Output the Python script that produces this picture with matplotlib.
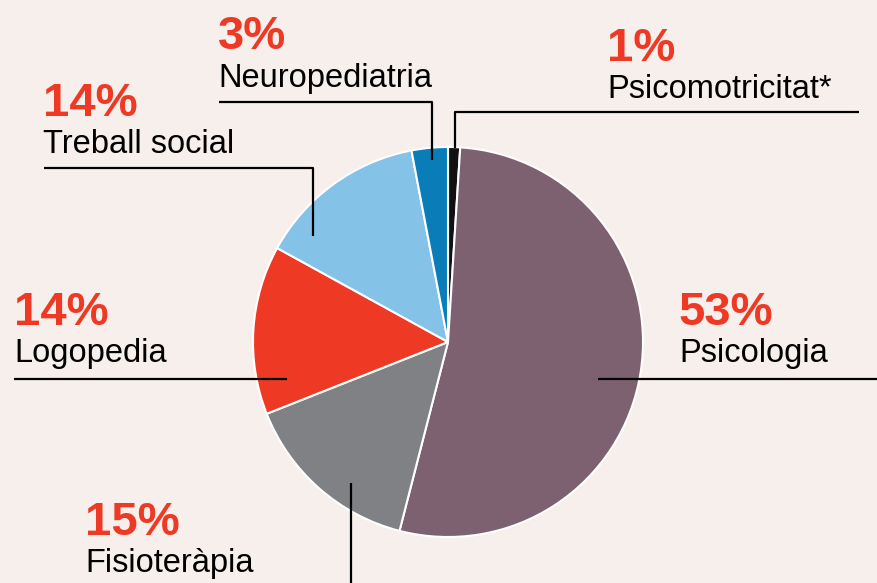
import matplotlib
matplotlib.use("Agg")
import matplotlib.pyplot as plt

# ---- data ----
categories = ["Psicomotricitat*", "Psicologia", "Fisioteràpia", "Logopedia", "Treball social", "Neuropediatria"]
values = [1, 53, 15, 14, 14, 3]
pct_labels = ["1%", "53%", "15%", "14%", "14%", "3%"]

# ---- style ----
colors = ["#111111", "#7e6170", "#808184", "#ee3a24", "#85c2e8", "#0a7db8"]
bg = "#f6efec"
red = "#ee3a24"
W, H = 878, 583

# label layout (pixel coords, y from top): text x, pct baseline, name baseline
label_pos = {
    "Psicomotricitat*": (607, 61, 98),
    "Psicologia": (679, 325, 362),
    "Fisioteràpia": (85, 535, 572),
    "Logopedia": (14, 325, 362),
    "Treball social": (43, 116, 153),
    "Neuropediatria": (218, 49, 87),
}
# leader lines (pixel coords, y from top)
leaders = {
    "Psicomotricitat*": [(859, 112), (455, 112), (455, 148)],
    "Psicologia": [(878, 379), (598, 379)],
    "Fisioteràpia": [(351, 583), (351, 483)],
    "Logopedia": [(14, 379), (287, 379)],
    "Treball social": [(44, 168), (313, 168), (313, 236)],
    "Neuropediatria": [(219, 102), (432, 102), (432, 160)],
}

fig = plt.figure(figsize=(W / 100, H / 100), dpi=100, facecolor=bg)
ax = fig.add_axes([0, 0, 1, 1])
ax.set_facecolor(bg)
ax.set_xlim(0, W)
ax.set_ylim(0, H)
ax.set_aspect("equal")
ax.axis("off")

cx, cy, r = 448, 342, 195
ax.pie(values, colors=colors, startangle=90, counterclock=False,
       center=(cx, H - cy), radius=r,
       wedgeprops=dict(edgecolor="white", linewidth=1.5))
ax.set_xlim(0, W)
ax.set_ylim(0, H)

for cat in categories:
    pts = leaders[cat]
    xs = [p[0] for p in pts]
    ys = [H - p[1] for p in pts]
    ax.plot(xs, ys, color="black", lw=1.6, solid_capstyle="butt", zorder=5)

font = "Liberation Sans"
for cat, pct in zip(categories, pct_labels):
    x, yb1, yb2 = label_pos[cat]
    ax.text(x, H - yb1, pct, color=red, fontsize=34, fontweight="bold",
            family=font, ha="left", va="baseline")
    ax.text(x, H - yb2, cat, color="black", fontsize=23.5,
            family=font, ha="left", va="baseline")

fig.savefig("out.png", dpi=100, facecolor=bg)
